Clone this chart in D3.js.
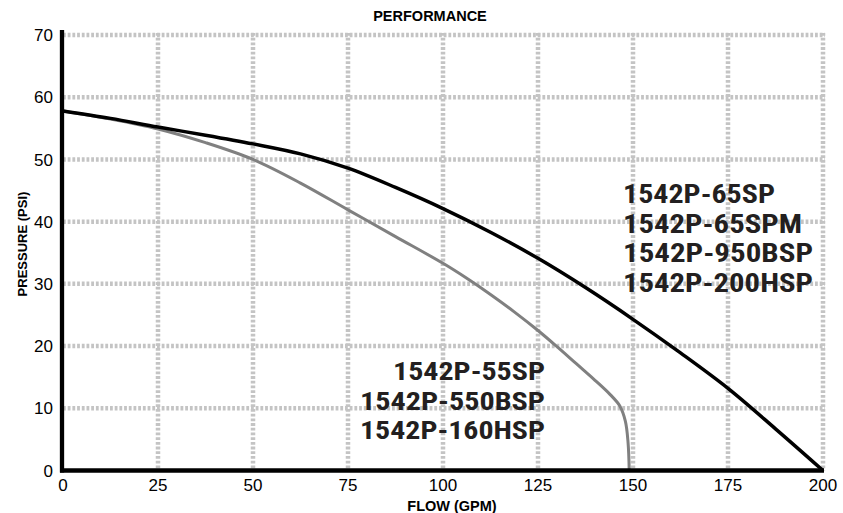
<!DOCTYPE html>
<html>
<head>
<meta charset="utf-8">
<script src="https://cdn.jsdelivr.net/npm/d3@7"></script>
<style>
  html, body { margin: 0; padding: 0; background: #fff; }
  svg { display: block; }
</style>
</head>
<body>
<svg id="chart" width="843" height="513"></svg>
<script>
// ---- data ----
const xTicks = [0, 25, 50, 75, 100, 125, 150, 175, 200];
const yTicks = [0, 10, 20, 30, 40, 50, 60, 70];

// 1542P-65SP family (black curve): flow (GPM), pressure (PSI)
const blackFlow     = [0, 12.5, 25, 37.5, 50, 62.5, 75, 87.5, 100, 112.5, 125, 137.5, 150, 162.5, 175, 187.5, 200];
const blackPressure = [57.8, 56.6, 55.2, 53.9, 52.5, 50.9, 48.6, 45.5, 42.1, 38.3, 34.1, 29.4, 24.3, 18.9, 13.2, 6.7, 0];

// 1542P-55SP family (grey curve)
const greyFlow     = [0, 12.5, 25, 37.5, 50, 62.5, 75, 87.5, 100, 106.25, 112.5, 118.75, 125, 130, 135, 140, 144, 146.5, 148, 148.7, 149];
const greyPressure = [57.8, 56.5, 54.9, 52.7, 50.0, 46.2, 41.9, 37.6, 33.3, 30.9, 28.3, 25.5, 22.5, 19.9, 17.2, 14.5, 12.2, 10.4, 7.9, 4.5, 0];

const rightLabels = ["1542P-65SP", "1542P-65SPM", "1542P-950BSP", "1542P-200HSP"];
const rightWidths = [152, 179, 190, 190];
const leftLabels  = ["1542P-55SP", "1542P-550BSP", "1542P-160HSP"];
const leftWidths  = [152, 185, 185];

const title = "PERFORMANCE";
const xTitle = "FLOW (GPM)";
const yTitle = "PRESSURE (PSI)";

// ---- drawing ----
const svg = d3.select("#chart");
const x = d3.scaleLinear().domain([0, 200]).range([63, 823]);
const y = d3.scaleLinear().domain([0, 70]).range([470.5, 35]);

const gridColor = "#c4c4c4";
const dash = "2.8,1.9";

// vertical grid
svg.append("g").selectAll("line").data(xTicks.filter(d => d > 0)).join("line")
  .attr("x1", d => x(d)).attr("x2", d => x(d))
  .attr("y1", y(70) - 2).attr("y2", y(0))
  .attr("stroke", gridColor).attr("stroke-width", 4.5)
  .attr("stroke-dasharray", dash);

// horizontal grid
svg.append("g").selectAll("line").data(yTicks.filter(d => d > 0)).join("line")
  .attr("x1", x(0)).attr("x2", x(200) + 2)
  .attr("y1", d => y(d)).attr("y2", d => y(d))
  .attr("stroke", gridColor).attr("stroke-width", 4.5)
  .attr("stroke-dasharray", dash);

// curves
const line = d3.line().curve(d3.curveCatmullRom.alpha(0.5));
const greyPts = greyFlow.map((f, i) => [x(f), y(greyPressure[i])]);
const blackPts = blackFlow.map((f, i) => [x(f), y(blackPressure[i])]);

svg.append("path").attr("d", line(greyPts))
  .attr("fill", "none").attr("stroke", "#808080").attr("stroke-width", 3);
svg.append("path").attr("d", line(blackPts))
  .attr("fill", "none").attr("stroke", "#000").attr("stroke-width", 3.5);

// axes lines
svg.append("line").attr("x1", x(0) - 1).attr("x2", x(0) - 1)
  .attr("y1", 30).attr("y2", y(0) + 2)
  .attr("stroke", "#000").attr("stroke-width", 4.3);
svg.append("line").attr("x1", x(0) - 3).attr("x2", x(200) + 1)
  .attr("y1", y(0)).attr("y2", y(0))
  .attr("stroke", "#000").attr("stroke-width", 4.3);

// tick labels
const tickFont = "'Liberation Sans', Arial, sans-serif";
svg.append("g").selectAll("text").data(yTicks).join("text")
  .attr("x", 53).attr("y", d => y(d)).attr("dy", "0.36em")
  .attr("text-anchor", "end")
  .attr("font-family", tickFont).attr("font-size", 17)
  .text(d => d);

svg.append("g").selectAll("text").data(xTicks).join("text")
  .attr("x", d => x(d)).attr("y", 491)
  .attr("text-anchor", "middle")
  .attr("font-family", tickFont).attr("font-size", 17)
  .text(d => d);

// titles
svg.append("text").attr("x", 430).attr("y", 21)
  .attr("text-anchor", "middle").attr("font-family", tickFont)
  .attr("font-weight", "bold").attr("font-size", 14.5).text(title);
svg.append("text").attr("x", 452).attr("y", 511)
  .attr("text-anchor", "middle").attr("font-family", tickFont)
  .attr("font-weight", "bold").attr("font-size", 14.5).text(xTitle);
svg.append("text").attr("transform", "translate(27,244) rotate(-90)")
  .attr("text-anchor", "middle").attr("font-family", tickFont)
  .attr("font-weight", "bold").attr("font-size", 13).text(yTitle);

// model labels
const labelFont = "'Liberation Sans Narrow', 'Roboto Condensed', 'DejaVu Sans Condensed', Roboto, 'Liberation Sans', sans-serif";
svg.append("g").selectAll("text").data(rightLabels).join("text")
  .attr("x", 623).attr("y", (d, i) => 203 + i * 29.7)
  .attr("font-family", labelFont).attr("font-weight", "bold").attr("font-size", 26)
  .attr("fill", "#231f20")
  .attr("textLength", (d, i) => rightWidths[i]).attr("lengthAdjust", "spacingAndGlyphs")
  .text(d => d);

svg.append("g").selectAll("text").data(leftLabels).join("text")
  .attr("x", (d, i) => 545 - leftWidths[i]).attr("y", (d, i) => 380 + i * 29.5)
  .attr("font-family", labelFont).attr("font-weight", "bold").attr("font-size", 26.5)
  .attr("fill", "#231f20")
  .attr("textLength", (d, i) => leftWidths[i]).attr("lengthAdjust", "spacingAndGlyphs")
  .text(d => d);
</script>
</body>
</html>
